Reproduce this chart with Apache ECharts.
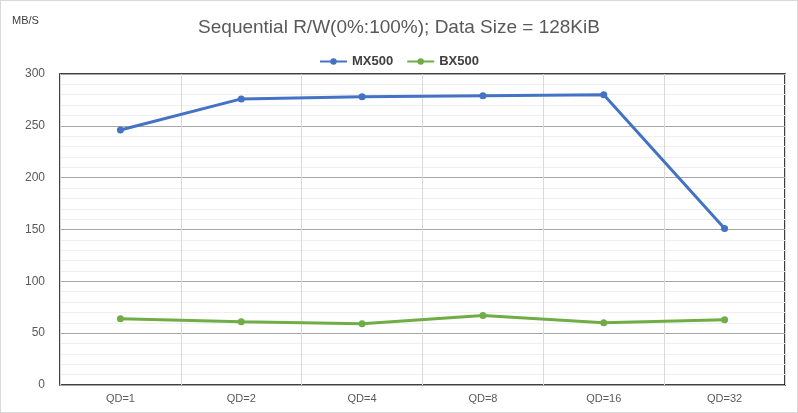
<!DOCTYPE html>
<html>
<head>
<meta charset="utf-8">
<script src="https://cdn.jsdelivr.net/npm/echarts@6/dist/echarts.min.js"></script>
<style>
  html, body { margin: 0; padding: 0; background: #fff; }
  #main { width: 798px; height: 413px; box-sizing: border-box; border: 1px solid #d9d9d9; }
</style>
</head>
<body>
<div id="main"></div>
<script>
// 数据
const categories = ['QD=1', 'QD=2', 'QD=4', 'QD=8', 'QD=16', 'QD=32'];
const mx500 = [246, 276, 278, 279, 280, 151];
const bx500 = [64, 61, 59, 67, 60, 63];

const font = '"Liberation Sans Narrow", "Liberation Sans", sans-serif';
const grey = '#595959';

var myChart = echarts.init(document.getElementById('main'));

var option = {
  animation: false,
  title: [
    {
      text: 'Sequential R/W(0%:100%); Data Size = 128KiB',
      left: 'center',
      top: 12,
      textStyle: { fontFamily: font, fontSize: 19, fontWeight: 'normal', color: grey }
    },
    {
      text: 'MB/S',
      left: 6,
      top: 9,
      textStyle: { fontFamily: font, fontSize: 11, fontWeight: 'normal', color: '#404040' }
    }
  ],
  legend: {
    top: 49,
    left: 'center',
    itemWidth: 27,
    itemHeight: 8,
    itemGap: 13,
    textStyle: { fontFamily: font, fontSize: 13, fontWeight: 'bold', color: '#404040' },
    data: ['MX500', 'BX500']
  },
  grid: {
    left: 59,
    right: 12,
    top: 73,
    bottom: 27,
    show: true,
    borderColor: '#000',
    borderWidth: 1.5
  },
  xAxis: {
    type: 'category',
    data: categories,
    boundaryGap: true,
    axisLine: { show: false },
    axisTick: { show: false },
    axisLabel: { fontFamily: font, fontSize: 11, color: grey, margin: 8 },
    splitLine: { show: true, lineStyle: { color: '#d9d9d9', width: 1 } }
  },
  yAxis: {
    type: 'value',
    min: 0,
    max: 300,
    interval: 50,
    axisLine: { show: false },
    axisTick: { show: false },
    axisLabel: { fontFamily: font, fontSize: 12, color: grey, margin: 15 },
    splitLine: { lineStyle: { color: '#a6a6a6', width: 1 } },
    minorTick: { show: false, splitNumber: 5 },
    minorSplitLine: { show: true, lineStyle: { color: '#efefef', width: 1 } }
  },
  series: [
    {
      name: 'MX500',
      type: 'line',
      data: mx500,
      symbol: 'circle',
      symbolSize: 7,
      lineStyle: { width: 3, color: '#4472C4' },
      itemStyle: { color: '#4472C4' }
    },
    {
      name: 'BX500',
      type: 'line',
      data: bx500,
      symbol: 'circle',
      symbolSize: 7,
      lineStyle: { width: 3, color: '#70AD47' },
      itemStyle: { color: '#70AD47' }
    }
  ]
};

myChart.setOption(option);
</script>
</body>
</html>
